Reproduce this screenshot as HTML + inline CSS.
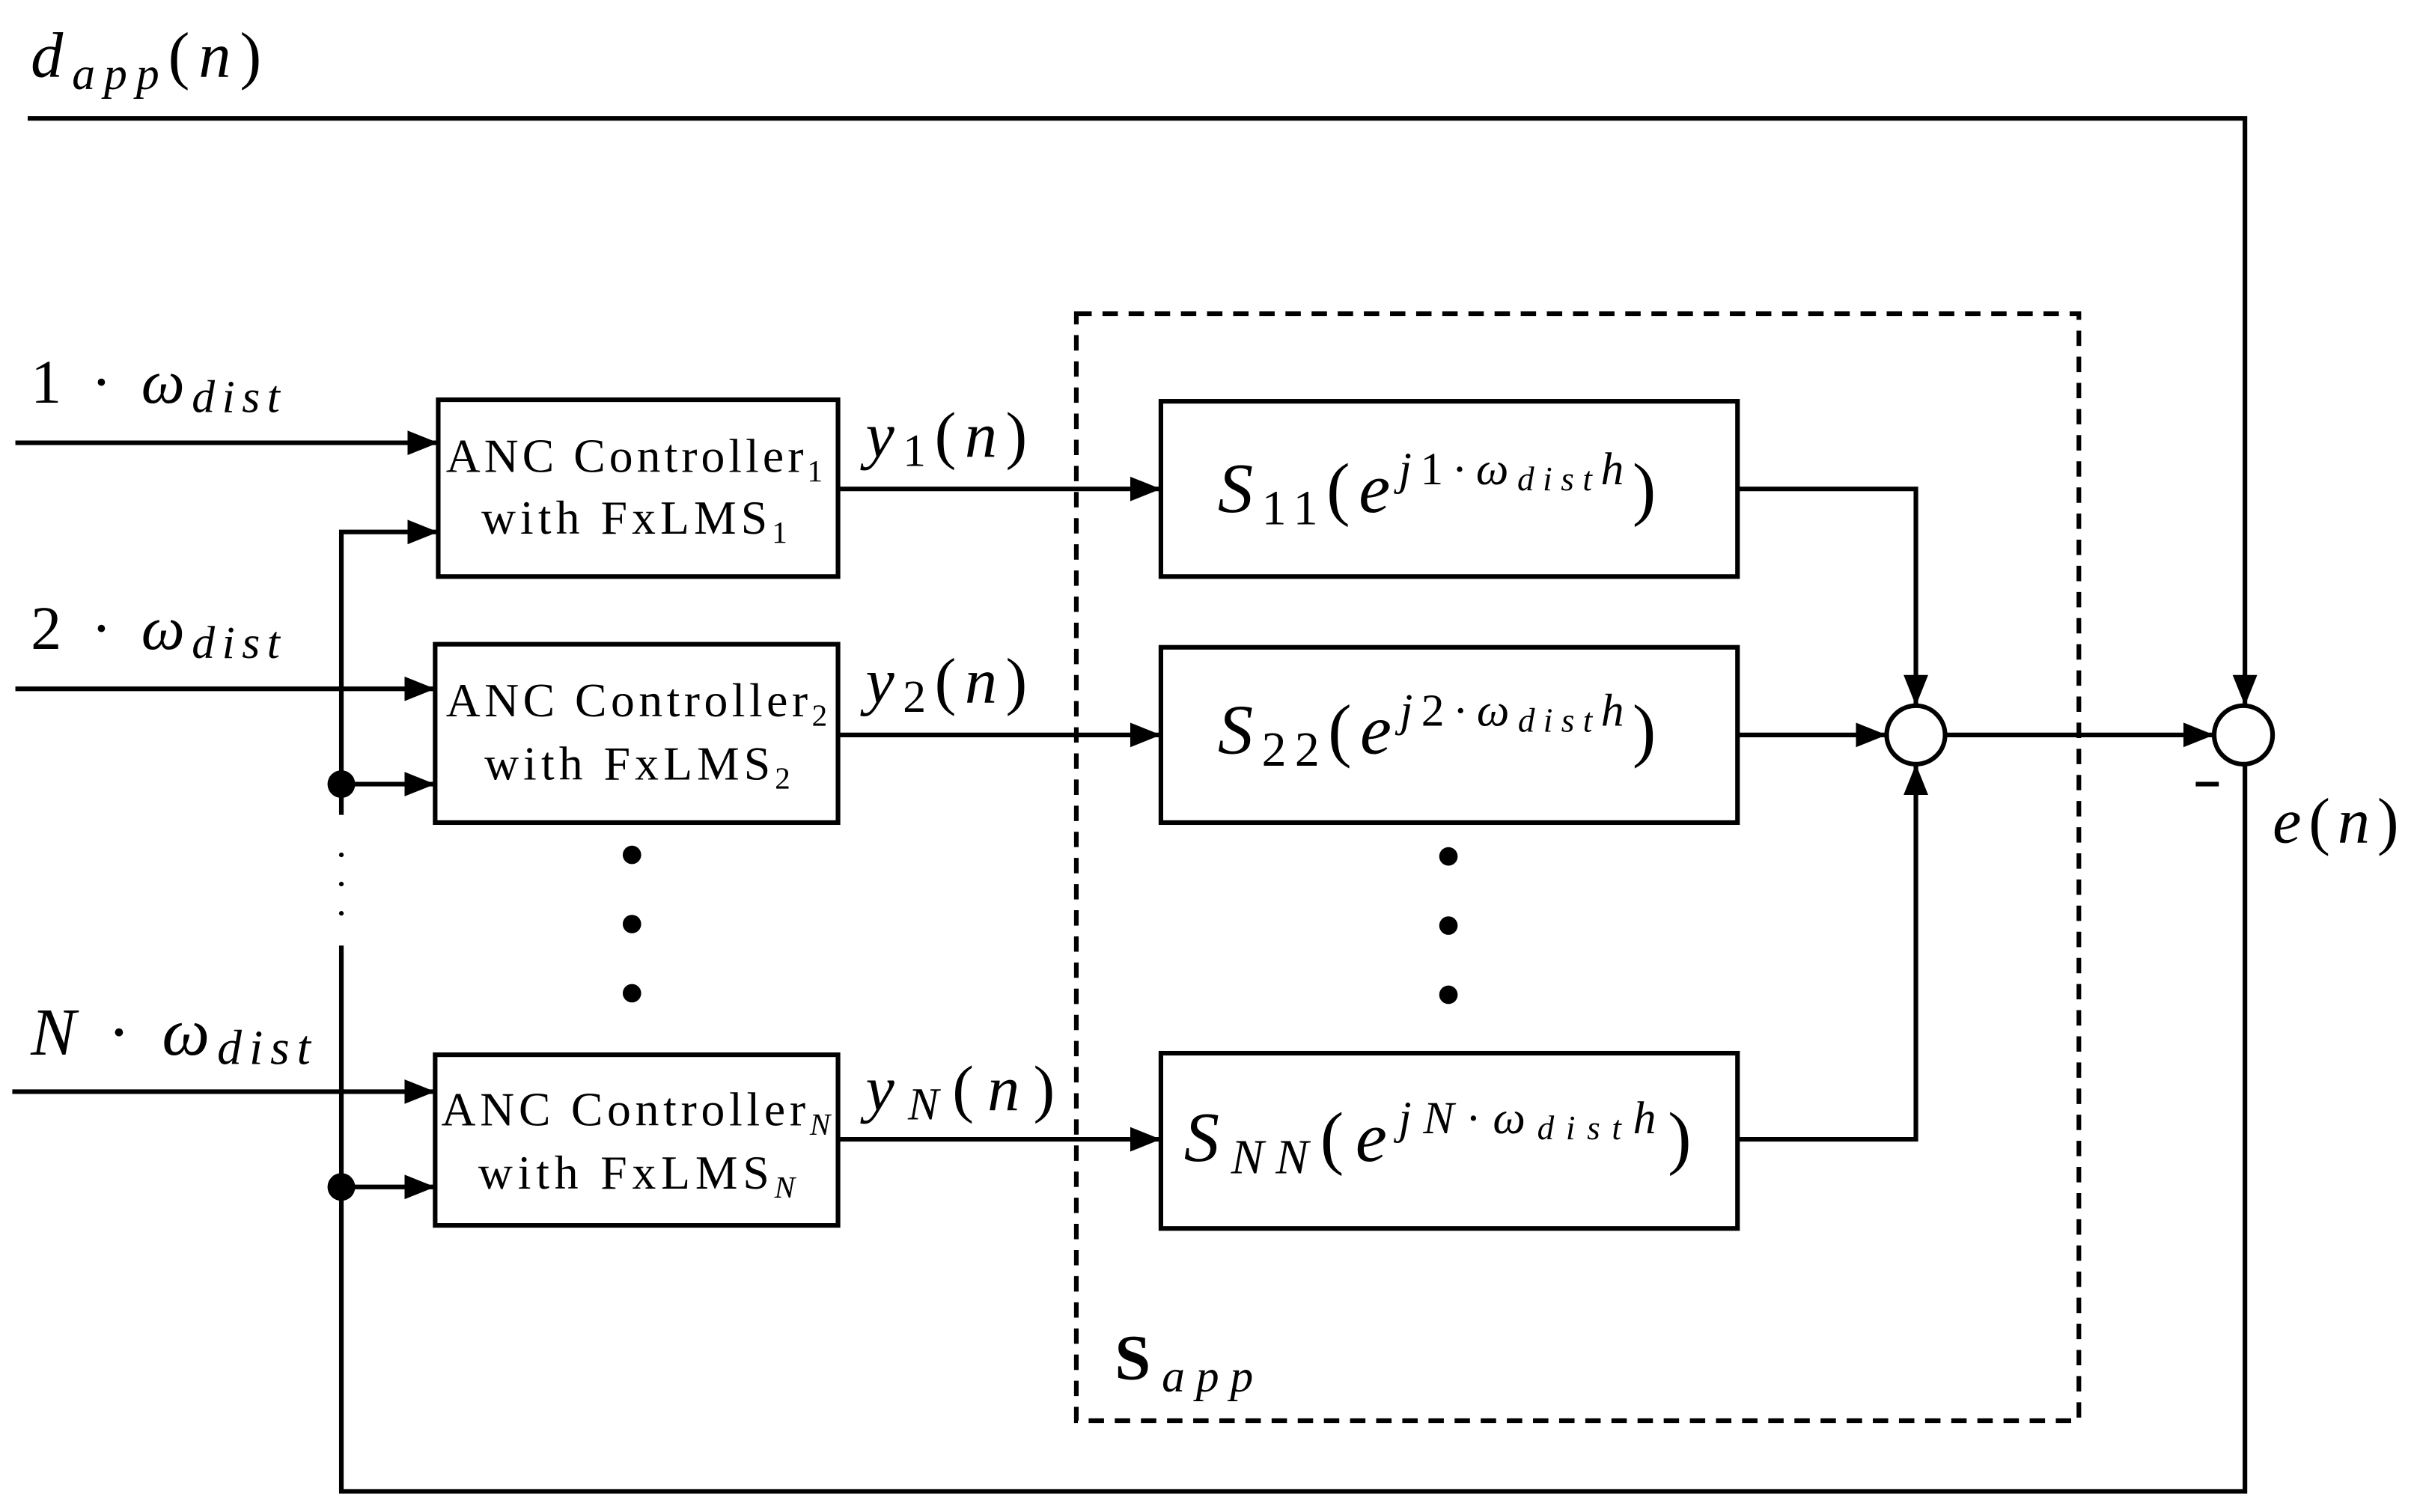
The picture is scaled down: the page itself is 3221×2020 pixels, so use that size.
<!DOCTYPE html>
<html><head><meta charset="utf-8"><style>
html,body{margin:0;padding:0;background:#fff;}
svg{display:block;}
text{font-family:"Liberation Serif",serif;fill:#000;}
.m{font-style:italic;}
</style></head><body>
<svg width="3221" height="2020" viewBox="0 0 1568 983.4" preserveAspectRatio="none" xmlns="http://www.w3.org/2000/svg">
<defs>
<marker id="b" markerWidth="20" markerHeight="20" refX="20" refY="10" orient="auto" markerUnits="userSpaceOnUse" viewBox="0 0 20 20"><path d="M0,2 L20,10 L0,18 z" fill="#000"/></marker></defs>
<g stroke="#000" stroke-width="3" fill="none">
<polyline points="18,77 1460,77 1460,459" marker-end="url(#b)"/>
<line x1="10" y1="288" x2="285" y2="288" marker-end="url(#b)"/>
<line x1="10" y1="448" x2="283" y2="448" marker-end="url(#b)"/>
<line x1="8" y1="710" x2="283" y2="710" marker-end="url(#b)"/>
<polyline points="1460,497 1460,970 222,970 222,615"/>
<polyline points="222,530 222,346 285,346" marker-end="url(#b)"/>
<line x1="222" y1="510" x2="283" y2="510" marker-end="url(#b)"/>
<line x1="222" y1="772" x2="283" y2="772" marker-end="url(#b)"/>
<rect x="285" y="260" width="260" height="115"/>
<rect x="283" y="419" width="262" height="116"/>
<rect x="283" y="686" width="262" height="111"/>
<rect x="755" y="261" width="375" height="114"/>
<rect x="755" y="421" width="375" height="114"/>
<rect x="755" y="685" width="375" height="114"/>
<line x1="545" y1="318" x2="755" y2="318" marker-end="url(#b)"/>
<line x1="545" y1="478" x2="755" y2="478" marker-end="url(#b)"/>
<line x1="545" y1="741" x2="755" y2="741" marker-end="url(#b)"/>
<polyline points="1130,318 1246,318 1246,459" marker-end="url(#b)"/>
<line x1="1130" y1="478" x2="1227" y2="478" marker-end="url(#b)"/>
<polyline points="1130,741 1246,741 1246,497" marker-end="url(#b)"/>
<line x1="1265" y1="478" x2="1440" y2="478" marker-end="url(#b)"/>
<circle cx="1246" cy="478" r="19"/>
<circle cx="1459" cy="478" r="19"/>
<rect x="700" y="204" width="652" height="720" stroke-dasharray="10,7"/>
<line x1="1428" y1="510" x2="1443" y2="510"/>
</g>
<g fill="#000">
<circle cx="222" cy="510" r="9"/><circle cx="222" cy="772" r="9"/>
<circle cx="222" cy="556" r="1.5"/><circle cx="222" cy="575" r="1.5"/><circle cx="222" cy="594" r="1.5"/>
<circle cx="411" cy="556" r="6"/><circle cx="411" cy="601" r="6"/><circle cx="411" cy="646" r="6"/>
<circle cx="942" cy="557" r="6"/><circle cx="942" cy="602" r="6"/><circle cx="942" cy="647" r="6"/>
</g>
<text x="20" y="50" font-size="42" textLength="150" lengthAdjust="spacing"><tspan class="m">d</tspan><tspan class="m" font-size="30" dy="8">app</tspan><tspan dy="-8">(</tspan><tspan class="m">n</tspan>)</text>
<text x="20" y="262" font-size="40" textLength="162" lengthAdjust="spacing">1 · <tspan class="m">ω</tspan><tspan class="m" font-size="30" dy="6">dist</tspan></text>
<text x="20" y="422" font-size="40" textLength="162" lengthAdjust="spacing">2 · <tspan class="m">ω</tspan><tspan class="m" font-size="30" dy="6">dist</tspan></text>
<text x="20" y="686" font-size="44" textLength="182" lengthAdjust="spacing"><tspan class="m">N</tspan> · <tspan class="m">ω</tspan><tspan class="m" font-size="32" dy="6">dist</tspan></text>
<text x="290" y="307" font-size="31" textLength="245" lengthAdjust="spacing">ANC Controller<tspan font-size="20" dy="6">1</tspan></text>
<text x="313" y="347" font-size="31" textLength="199" lengthAdjust="spacing">with FxLMS<tspan font-size="20" dy="6">1</tspan></text>
<text x="290" y="466" font-size="31" textLength="248" lengthAdjust="spacing">ANC Controller<tspan font-size="20" dy="6">2</tspan></text>
<text x="315" y="507" font-size="31" textLength="199" lengthAdjust="spacing">with FxLMS<tspan font-size="20" dy="6">2</tspan></text>
<text x="287" y="732" font-size="31" textLength="253" lengthAdjust="spacing">ANC Controller<tspan class="m" font-size="20" dy="6">N</tspan></text>
<text x="311" y="773" font-size="31" textLength="206" lengthAdjust="spacing">with FxLMS<tspan class="m" font-size="20" dy="6">N</tspan></text>
<text x="563" y="297" font-size="42" textLength="105" lengthAdjust="spacing"><tspan class="m">y</tspan><tspan font-size="30" dy="6">1</tspan><tspan dy="-6">(</tspan><tspan class="m">n</tspan>)</text>
<text x="563" y="457" font-size="42" textLength="105" lengthAdjust="spacing"><tspan class="m">y</tspan><tspan font-size="30" dy="6">2</tspan><tspan dy="-6">(</tspan><tspan class="m">n</tspan>)</text>
<text x="563" y="722" font-size="42" textLength="123" lengthAdjust="spacing"><tspan class="m">y</tspan><tspan class="m" font-size="30" dy="6">N</tspan><tspan dy="-6">(</tspan><tspan class="m">n</tspan>)</text>
<text x="792" y="333" font-size="46" textLength="285" lengthAdjust="spacing"><tspan class="m">S</tspan><tspan font-size="32" dy="8">11</tspan><tspan dy="-8">(</tspan><tspan class="m">e</tspan><tspan class="m" font-size="30" dy="-18">j</tspan><tspan font-size="30">1·</tspan><tspan class="m" font-size="30">ω</tspan><tspan class="m" font-size="22" dy="4">dist</tspan><tspan class="m" font-size="30" dy="-4">h</tspan><tspan dy="18">)</tspan></text>
<text x="792" y="490" font-size="46" textLength="285" lengthAdjust="spacing"><tspan class="m">S</tspan><tspan font-size="32" dy="8">22</tspan><tspan dy="-8">(</tspan><tspan class="m">e</tspan><tspan class="m" font-size="30" dy="-18">j</tspan><tspan font-size="30">2·</tspan><tspan class="m" font-size="30">ω</tspan><tspan class="m" font-size="22" dy="4">dist</tspan><tspan class="m" font-size="30" dy="-4">h</tspan><tspan dy="18">)</tspan></text>
<text x="770" y="755" font-size="46" textLength="330" lengthAdjust="spacing"><tspan class="m">S</tspan><tspan class="m" font-size="32" dy="8">NN</tspan><tspan dy="-8">(</tspan><tspan class="m">e</tspan><tspan class="m" font-size="30" dy="-18">jN</tspan><tspan font-size="30">·</tspan><tspan class="m" font-size="30">ω</tspan><tspan class="m" font-size="22" dy="4">dist</tspan><tspan class="m" font-size="30" dy="-4">h</tspan><tspan dy="18">)</tspan></text>
<text x="1478" y="548" font-size="42" textLength="82" lengthAdjust="spacing"><tspan class="m">e</tspan>(<tspan class="m">n</tspan>)</text>
<text x="725" y="897" font-size="42" font-weight="bold" textLength="90" lengthAdjust="spacing">S<tspan class="m" font-weight="normal" font-size="30" dy="8">app</tspan></text>
</svg>
</body></html>
